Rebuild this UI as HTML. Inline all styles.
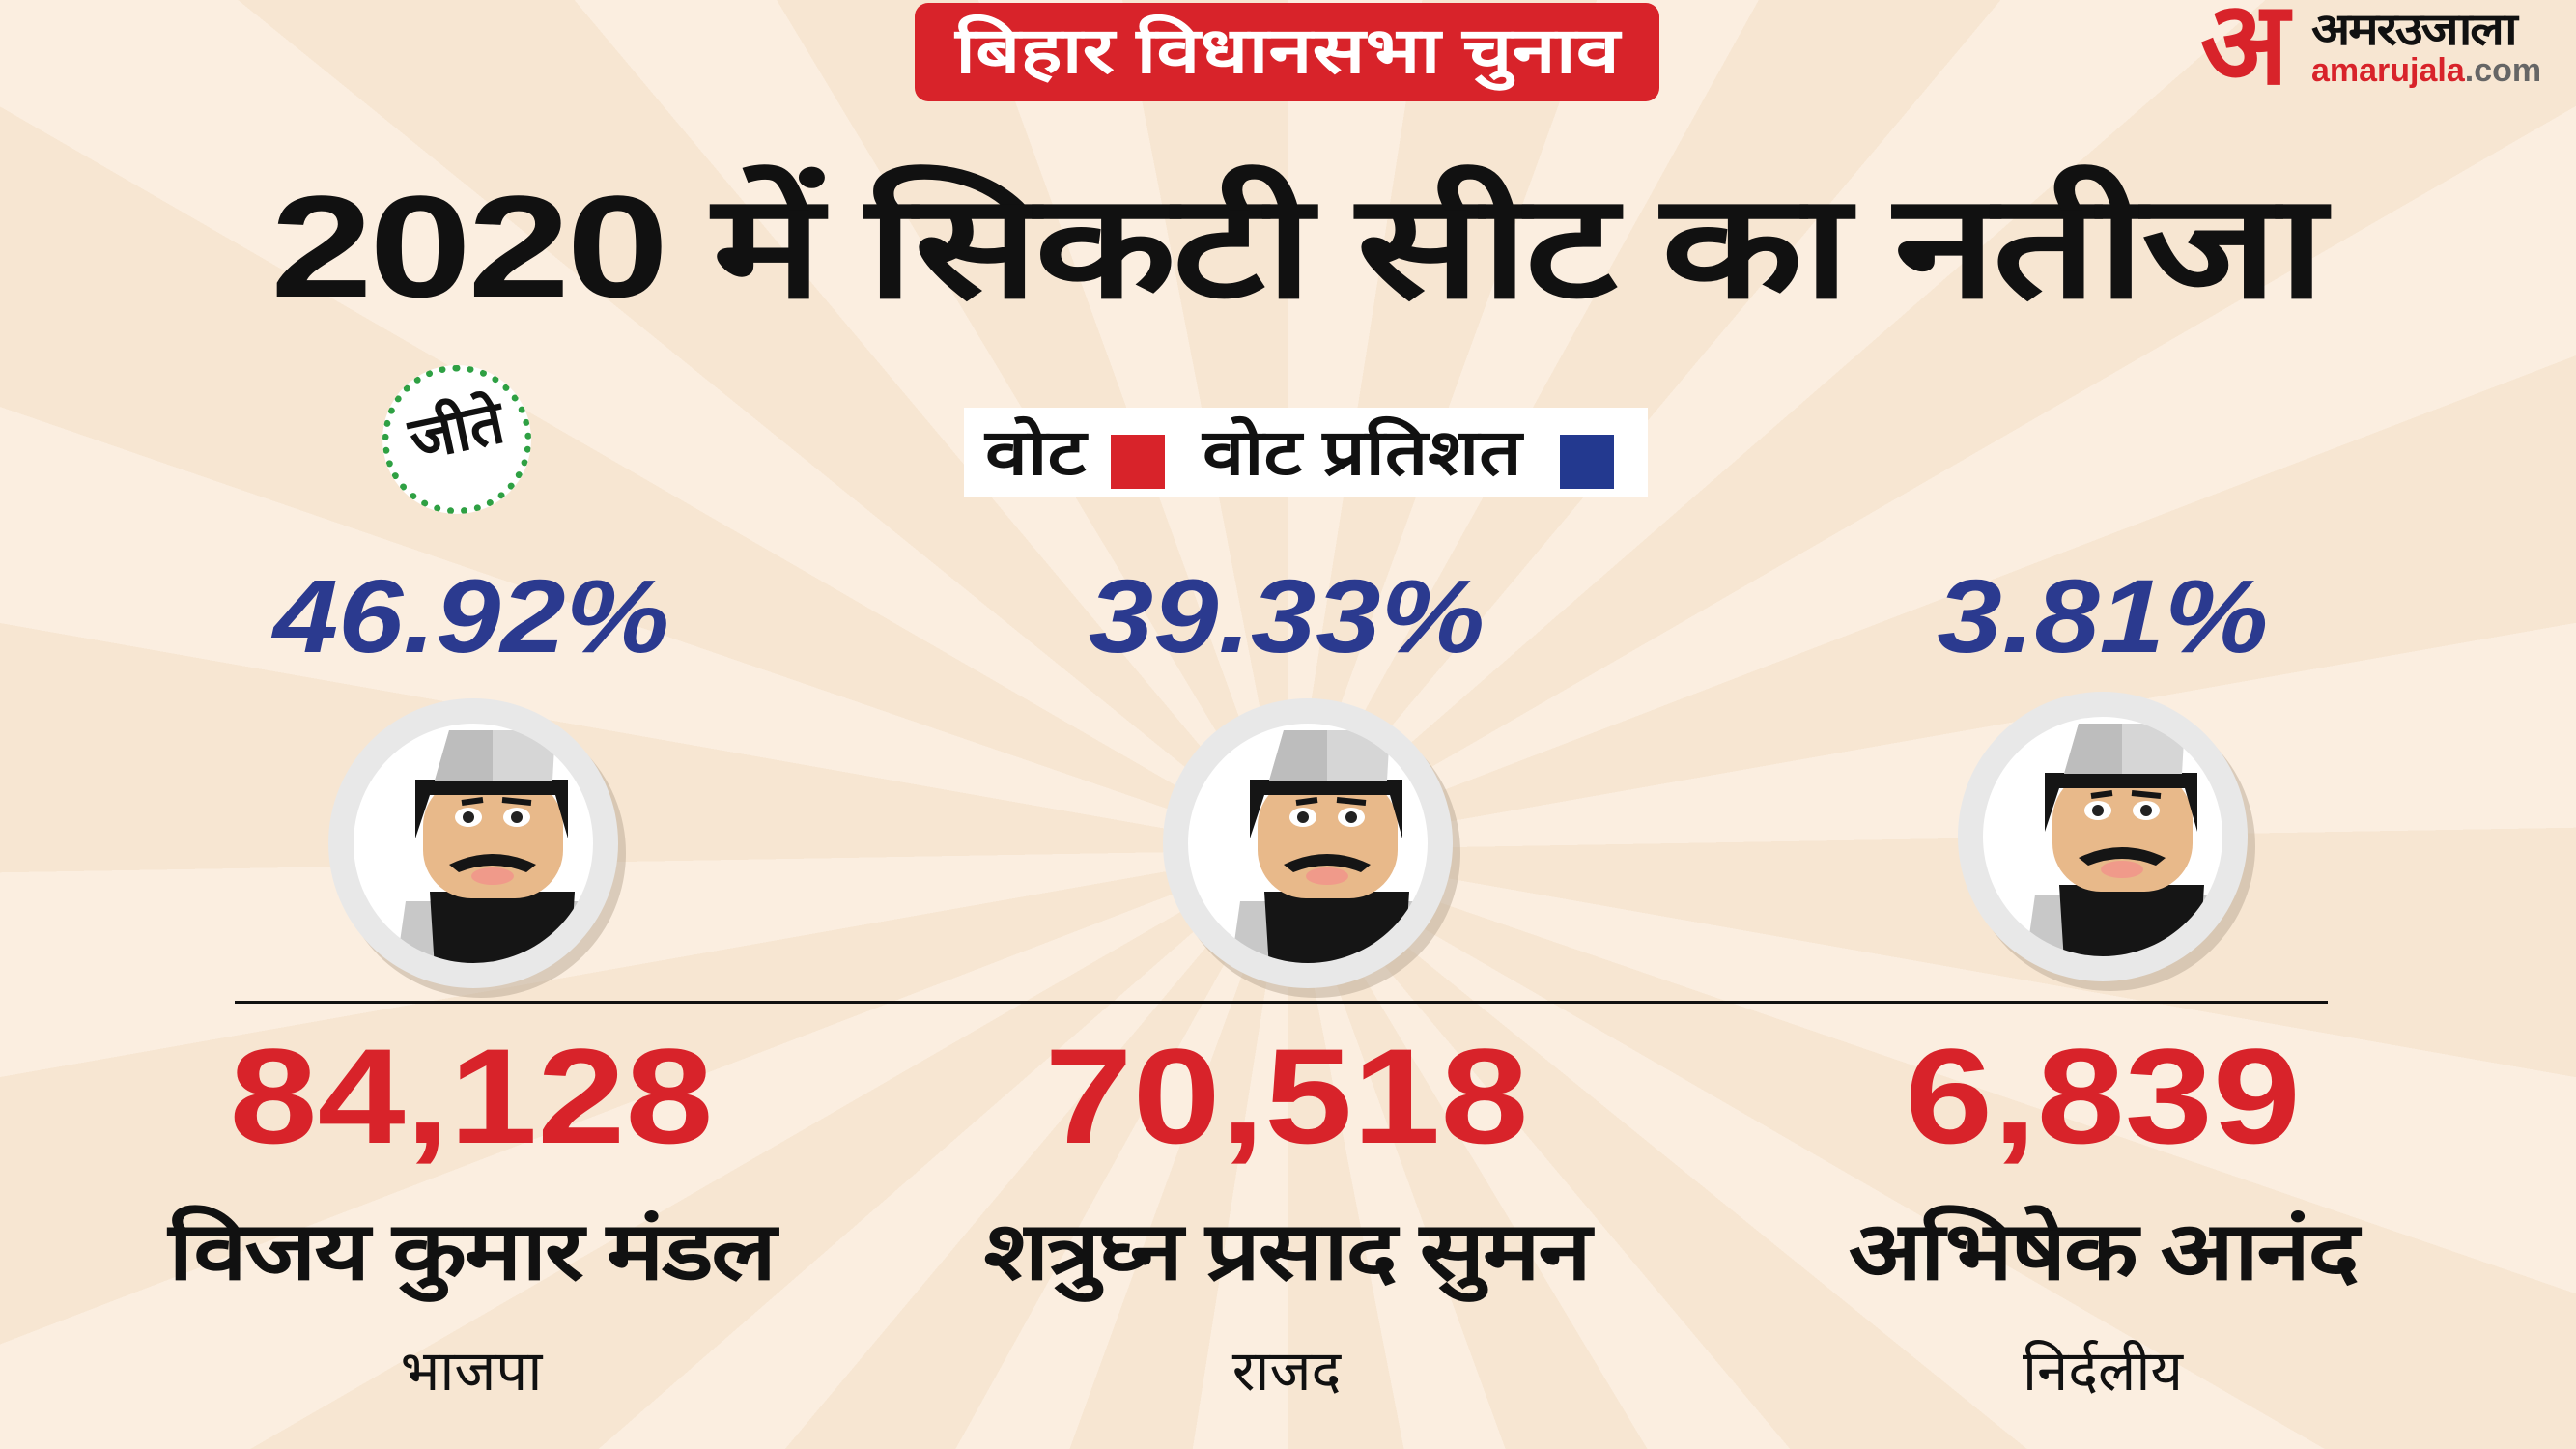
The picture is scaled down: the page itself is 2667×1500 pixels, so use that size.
<!DOCTYPE html>
<html><head><meta charset="utf-8"><style>
html,body{margin:0;padding:0}
body{width:2667px;height:1500px;overflow:hidden;position:relative;font-family:"Liberation Sans","Noto Sans CJK SC",sans-serif;
background:#f9e9d6;}
.rays{position:absolute;left:0;top:0;width:2667px;height:1500px;
background:repeating-conic-gradient(from 0deg at 1333px 880px,#fbeee0 0deg 9deg,#f7e6d2 9deg 20deg);}
.t{position:absolute;white-space:nowrap;text-align:center;font-weight:bold;}
</style></head><body>
<div class="rays"></div>
<div style="position:absolute;left:947px;top:3px;width:771px;height:102px;background:#d8232a;border-radius:14px"></div>
<div class="t" style="left:1333px;top:8px;font-size:66px;color:#fff;line-height:88px;transform:translateX(-50%) scaleX(1.23)">बिहार विधानसभा चुनाव</div>
<div class="t" style="left:2278px;top:-10px;font-size:120px;color:#d8232a;line-height:110px">अ</div>
<div class="t" style="left:2393px;top:6px;font-size:46px;color:#111;line-height:48px;letter-spacing:-2px;transform-origin:left;transform:scaleX(1.15)">अमरउजाला</div>
<div class="t" style="left:2393px;top:54px;font-size:34px;color:#d8232a;line-height:38px">amarujala<span style="color:#666">.com</span></div>
<div class="t" style="left:1342px;top:165px;font-size:150px;color:#111;line-height:180px;letter-spacing:-3px;transform:translateX(-50%) scaleX(1.27)">2020 में सिकटी सीट का नतीजा</div>
<div style="position:absolute;left:396px;top:378px;width:154px;height:154px;border-radius:50%;background:#fff;border:7px dotted #2ea043;box-sizing:border-box"></div>
<div class="t" style="left:473px;top:412px;font-size:62px;color:#111;line-height:70px;transform:translateX(-50%) rotate(-12deg)">जीते</div>
<div style="position:absolute;left:998px;top:422px;width:708px;height:92px;background:#fff"></div>
<div class="t" style="left:1020px;top:428px;font-size:66px;color:#111;line-height:80px;transform-origin:left;transform:scaleX(1.2)">वोट</div>
<div style="position:absolute;left:1150px;top:450px;width:56px;height:56px;background:#d8232a"></div>
<div class="t" style="left:1245px;top:428px;font-size:66px;color:#111;line-height:80px;transform-origin:left;transform:scaleX(1.18)">वोट प्रतिशत</div>
<div style="position:absolute;left:1615px;top:450px;width:56px;height:56px;background:#23398f"></div>
<div class="t" style="left:488px;top:578px;font-size:108px;color:#2b3a8f;font-style:italic;line-height:120px;transform:translateX(-50%) scaleX(1.12)">46.92%</div>
<div class="t" style="left:1332px;top:578px;font-size:108px;color:#2b3a8f;font-style:italic;line-height:120px;transform:translateX(-50%) scaleX(1.12)">39.33%</div>
<div class="t" style="left:2177px;top:578px;font-size:108px;color:#2b3a8f;font-style:italic;line-height:120px;transform:translateX(-50%) scaleX(1.12)">3.81%</div>
<svg width="2667" height="1500" style="position:absolute;left:0;top:0">
<defs>
<clipPath id="cl"><circle cx="0" cy="0" r="124"/></clipPath>
<g id="av">
<circle cx="8" cy="10" r="150" fill="#b9a894" opacity=".5"/>
<circle cx="0" cy="0" r="150" fill="#e8e8e8"/>
<circle cx="0" cy="0" r="124" fill="#fff"/>
<g clip-path="url(#cl)">
<path d="M-70 60 L115 60 L125 130 L-80 130 Z" fill="#c8c8c8"/>
<path d="M-45 50 L105 50 L100 130 L-40 130 Z" fill="#151515"/>
<rect x="-52" y="-68" width="145" height="125" rx="50" fill="#e8b98a"/>
<path d="M-60 -5 L-60 -66 L98 -66 L98 -5 L85 -50 L-45 -50 Z" fill="#151515"/>
<path d="M-40 -65 L-25 -117 L85 -117 L82 -65 Z" fill="#d6d6d6"/>
<path d="M-40 -65 L-25 -117 L20 -117 L20 -65 Z" fill="#bdbdbd"/>
<ellipse cx="-5" cy="-27" rx="14" ry="10" fill="#fff"/><circle cx="-5" cy="-27" r="6" fill="#222"/>
<ellipse cx="45" cy="-27" rx="14" ry="10" fill="#fff"/><circle cx="45" cy="-27" r="6" fill="#222"/>
<path d="M-12 -42 L10 -45 M30 -45 L60 -42" stroke="#151515" stroke-width="6"/>
<path d="M-25 22 Q20 0 65 22 L55 30 Q20 16 -15 30 Z" fill="#151515"/>
<ellipse cx="20" cy="34" rx="22" ry="9" fill="#f09a8a"/>
</g></g></defs>
<use href="#av" x="490" y="873"/>
<use href="#av" x="1354" y="873"/>
<use href="#av" x="2177" y="866"/>
<rect x="243" y="1036" width="2167" height="3" fill="#111"/>
</svg>
<div class="t" style="left:488px;top:1060px;font-size:140px;color:#d8232a;line-height:150px;transform:translateX(-50%) scaleX(1.17)">84,128</div>
<div class="t" style="left:1332px;top:1060px;font-size:140px;color:#d8232a;line-height:150px;transform:translateX(-50%) scaleX(1.17)">70,518</div>
<div class="t" style="left:2177px;top:1060px;font-size:140px;color:#d8232a;line-height:150px;transform:translateX(-50%) scaleX(1.17)">6,839</div>
<div class="t" style="left:488px;top:1245px;font-size:84px;color:#111;line-height:100px;letter-spacing:-2px;transform:translateX(-50%) scaleX(1.19)">विजय कुमार मंडल</div>
<div class="t" style="left:1332px;top:1245px;font-size:84px;color:#111;line-height:100px;letter-spacing:-2px;transform:translateX(-50%) scaleX(1.19)">शत्रुघ्न प्रसाद सुमन</div>
<div class="t" style="left:2177px;top:1245px;font-size:84px;color:#111;line-height:100px;letter-spacing:-2px;transform:translateX(-50%) scaleX(1.19)">अभिषेक आनंद</div>
<div class="t" style="left:488px;top:1380px;font-size:58px;color:#111;line-height:80px;font-weight:normal;transform:translateX(-50%)">भाजपा</div>
<div class="t" style="left:1332px;top:1380px;font-size:58px;color:#111;line-height:80px;font-weight:normal;transform:translateX(-50%)">राजद</div>
<div class="t" style="left:2177px;top:1380px;font-size:58px;color:#111;line-height:80px;font-weight:normal;transform:translateX(-50%)">निर्दलीय</div>
</body></html>
